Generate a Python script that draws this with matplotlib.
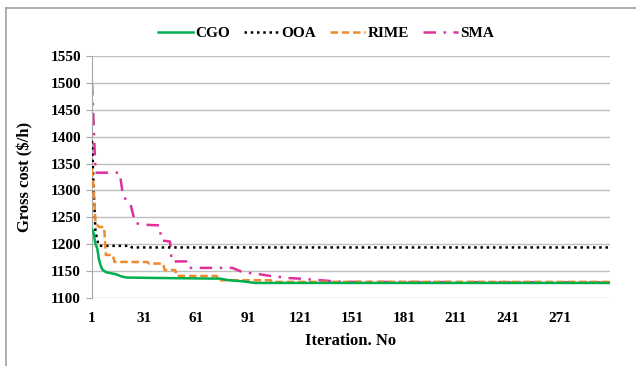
import matplotlib
matplotlib.use("Agg")
import matplotlib.pyplot as plt
from matplotlib.lines import Line2D

plt.rcParams['font.family'] = ['Liberation Serif', 'DejaVu Serif']
plt.rcParams['font.weight'] = 'bold'

# Breakpoints (iteration, gross cost)
cgo_it  = [1, 2, 3, 4, 5, 6, 7, 9, 12, 15, 18, 21, 45, 75, 80, 88, 95, 300]
cgo_val = [1228, 1220, 1200, 1193, 1172, 1160, 1153, 1148, 1146, 1144, 1140, 1138, 1137, 1136, 1133, 1131, 1128, 1128]

ooa_it  = [1, 2, 3, 4, 5, 23, 24, 300]
ooa_val = [1392, 1300, 1225, 1208, 1197, 1197, 1194, 1194]

rime_it  = [1, 2, 3, 4, 5, 8, 9, 13, 14, 33, 34, 42, 43, 49, 50, 73, 74, 104, 105, 300]
rime_val = [1340, 1298, 1240, 1236, 1232, 1232, 1180, 1180, 1167, 1167, 1164, 1164, 1152, 1152, 1141, 1141, 1133, 1133, 1130, 1130]

sma_it  = [1, 2, 3, 17, 19, 23, 26, 33, 40, 41, 46, 47, 56, 57, 82, 88, 96, 104, 115, 121, 133, 145, 300]
sma_val = [1500, 1420, 1333, 1333, 1288, 1277, 1239, 1236, 1235, 1207, 1205, 1168, 1168, 1156, 1156, 1148, 1145, 1141, 1137, 1136, 1133, 1130, 1129]

xticks = [1, 31, 61, 91, 121, 151, 181, 211, 241, 271]
yticks = [1100, 1150, 1200, 1250, 1300, 1350, 1400, 1450, 1500, 1550]

fig = plt.figure(figsize=(6.36, 3.66), dpi=100)
ax = fig.add_axes([92/636, 1-298/366, (610-92)/636, (298-56)/366])

ax.plot(cgo_it, cgo_val, color='#00b050', lw=1.8, label='CGO', zorder=5)
ax.plot(ooa_it, ooa_val, color='#000000', lw=1.8, ls=(0, (1, 1.5)), label='OOA', zorder=3)
ax.plot(rime_it, rime_val, color='#f08a2c', lw=1.8, ls=(0, (3, 1.5)), label='RIME', zorder=4)
ax.plot(sma_it, sma_val, color='#e0309a', lw=1.8, ls=(0, (5, 3, 1, 3)), label='SMA', zorder=2)

ax.set_xlim(1, 300)
ax.set_ylim(1100, 1550)
ax.set_xticks(xticks)
ax.set_yticks(yticks)
ax.tick_params(axis='x', length=0, labelsize=11, pad=10)
ax.tick_params(axis='y', length=4, color='#a6a6a6', labelsize=11, pad=4)
for lab in ax.get_xticklabels() + ax.get_yticklabels():
    lab.set_fontweight('bold')

ax.grid(axis='y', color='#c0c0c0', lw=1)
ax.set_axisbelow(True)
for s in ['top', 'right', 'bottom']:
    ax.spines[s].set_visible(False)
ax.spines['left'].set_color('#a6a6a6')

ax.set_xlabel('Iteration. No', fontsize=12, fontweight='bold', labelpad=6)
ax.set_ylabel('Gross cost ($/h)', fontsize=12, fontweight='bold', labelpad=12)

leg = fig.legend(loc='center', bbox_to_anchor=(326/636, 1-33/366), ncol=4, frameon=False,
                 handlelength=2.3, columnspacing=0.9, handletextpad=0.15,
                 prop={'weight': 'bold', 'size': 11})

# Chart area border
fig.add_artist(Line2D([6/636, 6/636], [0, 1-8/366], transform=fig.transFigure, color='#a0a0a0', lw=1.2))
fig.add_artist(Line2D([6/636, 1], [1-8/366, 1-8/366], transform=fig.transFigure, color='#a0a0a0', lw=1.2))

fig.savefig('out.png', dpi=100)
